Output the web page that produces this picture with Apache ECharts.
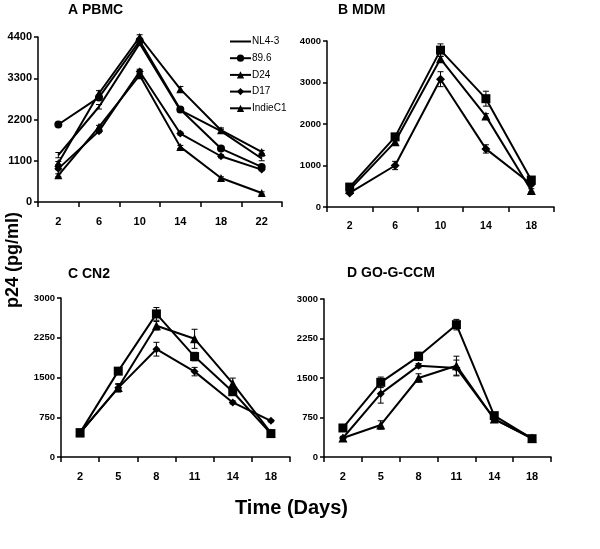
<!DOCTYPE html>
<html><head><meta charset="utf-8">
<script src="https://cdn.jsdelivr.net/npm/echarts@6/dist/echarts.min.js"></script>
<style>html,body{margin:0;padding:0;background:#fff}#c{width:600px;height:549px}</style>
</head><body><div id="c"></div>
<script>
// ---- Panel A: PBMC ----
const daysA = ['2','6','10','14','18','22'];
const aNL43   = [1250, 2540, 4230, 2450, 1890, 1160];
const aNL43e  = [70, 60, 60, 50, 50, 60];
const a896    = [2066, 2790, 4300, 2467, 1425, 935];
const a896e   = [30, 50, 50, 50, 40, 30];
const aD24    = [1040, 2900, 4400, 3010, 1915, 1336];
const aD24e   = [40, 70, 60, 70, 60, 40];
const aD17    = [890, 1890, 3480, 1826, 1220, 864];
const aD17e   = [30, 40, 60, 40, 40, 30];
const aIndie  = [712, 2004, 3380, 1470, 641, 240];
const aIndiee = [40, 40, 40, 40, 30, 30];
const ticksA  = [0, 1100, 2200, 3300, 4400];

// ---- Panel B: MDM ----
const daysB = ['2','6','10','14','18'];
const bSq   = [480, 1690, 3780, 2610, 650];
const bSqe  = [40, 60, 150, 180, 60];
const bTri  = [420, 1570, 3570, 2190, 400];
const bTrie = [30, 50, 60, 60, 40];
const bDia  = [340, 1000, 3080, 1400, 550];
const bDiae = [30, 100, 180, 100, 40];
const ticksB = [0, 1000, 2000, 3000, 4000];

// ---- Panel C: CN2 ----
const daysC = ['2','5','8','11','14','18'];
const cSq   = [460, 1620, 2700, 1895, 1232, 442];
const cSqe  = [30, 40, 120, 80, 60, 30];
const cTri  = [455, 1310, 2476, 2230, 1389, 455];
const cTrie = [30, 60, 80, 180, 100, 30];
const cDia  = [460, 1305, 2034, 1611, 1030, 682];
const cDiae = [30, 80, 130, 80, 30, 20];
const ticksC = [0, 750, 1500, 2250, 3000];

// ---- Panel D: GO-G-CCM ----
const daysD = ['2','5','8','11','14','18'];
const dSq   = [551, 1418, 1911, 2513, 785, 348];
const dSqe  = [30, 100, 80, 100, 40, 30];
const dDia  = [361, 1203, 1734, 1690, 721, 348];
const dDiae = [30, 180, 40, 150, 40, 30];
const dTri  = [361, 608, 1500, 1734, 721, 361];
const dTrie = [30, 80, 80, 180, 40, 30];
const ticksD = [0, 750, 1500, 2250, 3000];

const FONT = '"Liberation Sans", Arial, sans-serif';
const chart = echarts.init(document.getElementById('c'), null, {renderer: 'canvas'});

const grids = [
  {left: 38, top: 37, width: 244, height: 165},
  {left: 327, top: 41, width: 227, height: 166},
  {left: 61, top: 298, width: 229, height: 159},
  {left: 324, top: 299, width: 227, height: 158}
];
const cats = [daysA, daysB, daysC, daysD];
const yTicks = [ticksA, ticksB, ticksC, ticksD];
const yFont = [11, 9.5, 9.5, 9.5];
const xFont = [11, 10.5, 11, 11];

const xAxis = cats.map((c, i) => ({
  type: 'category', gridIndex: i, data: c, boundaryGap: true,
  axisLine: {lineStyle: {color: '#000', width: 1.5}},
  axisTick: {show: true, length: 5, lineStyle: {color: '#000', width: 1.5}},
  axisLabel: {color: '#000', fontWeight: 'bold', fontSize: xFont[i], fontFamily: FONT, margin: 14},
  splitLine: {show: false}
}));
const yAxis = yTicks.map((t, i) => ({
  type: 'value', gridIndex: i, min: t[0], max: t[t.length - 1], interval: t[1] - t[0],
  axisLine: {show: true, lineStyle: {color: '#000', width: 1.5}},
  axisTick: {show: true, length: 4, lineStyle: {color: '#000', width: 1.5}},
  axisLabel: {color: '#000', fontWeight: 'bold', fontSize: yFont[i], fontFamily: FONT, margin: 6,
              formatter: v => String(v)},
  splitLine: {show: false}
}));

function lineSeries(name, gi, data, symbol, size) {
  return {
    name: name, type: 'line', xAxisIndex: gi, yAxisIndex: gi, data: data,
    symbol: symbol, symbolSize: size, showSymbol: symbol !== 'none',
    lineStyle: {color: '#000', width: 2}, itemStyle: {color: '#000'},
    emphasis: {disabled: true}, animation: false, z: 3
  };
}
function errSeries(gi, vals, errs) {
  return {
    type: 'custom', xAxisIndex: gi, yAxisIndex: gi, animation: false, silent: true, z: 2,
    data: vals.map((v, k) => [k, v, errs[k]]),
    renderItem: function (params, api) {
      const x = api.value(0), v = api.value(1), e = api.value(2);
      const hi = api.coord([x, v + e]), lo = api.coord([x, v - e]);
      const cw = 3;
      const st = {stroke: '#000', lineWidth: 1};
      return {type: 'group', children: [
        {type: 'line', shape: {x1: hi[0], y1: hi[1], x2: lo[0], y2: lo[1]}, style: st},
        {type: 'line', shape: {x1: hi[0] - cw, y1: hi[1], x2: hi[0] + cw, y2: hi[1]}, style: st},
        {type: 'line', shape: {x1: lo[0] - cw, y1: lo[1], x2: lo[0] + cw, y2: lo[1]}, style: st}
      ]};
    }
  };
}

const series = [
  errSeries(0, aNL43, aNL43e), errSeries(0, a896, a896e), errSeries(0, aD24, aD24e),
  errSeries(0, aD17, aD17e), errSeries(0, aIndie, aIndiee),
  lineSeries('NL4-3', 0, aNL43, 'none', 0),
  lineSeries('89.6', 0, a896, 'circle', 8),
  lineSeries('D24', 0, aD24, 'triangle', 8),
  lineSeries('D17', 0, aD17, 'diamond', 8),
  lineSeries('IndieC1', 0, aIndie, 'triangle', 8),

  errSeries(1, bSq, bSqe), errSeries(1, bTri, bTrie), errSeries(1, bDia, bDiae),
  lineSeries('MDM square', 1, bSq, 'rect', 9),
  lineSeries('MDM triangle', 1, bTri, 'triangle', 9),
  lineSeries('MDM diamond', 1, bDia, 'diamond', 9),

  errSeries(2, cSq, cSqe), errSeries(2, cTri, cTrie), errSeries(2, cDia, cDiae),
  lineSeries('CN2 square', 2, cSq, 'rect', 9),
  lineSeries('CN2 triangle', 2, cTri, 'triangle', 9),
  lineSeries('CN2 diamond', 2, cDia, 'diamond', 8),

  errSeries(3, dSq, dSqe), errSeries(3, dDia, dDiae), errSeries(3, dTri, dTrie),
  lineSeries('CCM square', 3, dSq, 'rect', 9),
  lineSeries('CCM diamond', 3, dDia, 'diamond', 8),
  lineSeries('CCM triangle', 3, dTri, 'triangle', 9)
];

const titleStyle = {fontSize: 14, fontWeight: 'bold', color: '#000', fontFamily: FONT};

chart.setOption({
  backgroundColor: '#fff',
  animation: false,
  title: [
    {text: 'A PBMC', left: 63, top: -2, textStyle: titleStyle},
    {text: 'B MDM', left: 333, top: -2, textStyle: titleStyle},
    {text: 'C CN2', left: 63, top: 262, textStyle: titleStyle},
    {text: 'D GO-G-CCM', left: 342, top: 261, textStyle: titleStyle}
  ],
  legend: {
    data: [
      {name: 'NL4-3', itemStyle: {opacity: 0}},
      '89.6', 'D24', 'D17', 'IndieC1'
    ],
    orient: 'vertical', left: 229, top: 36.5, padding: 0, itemWidth: 21, itemHeight: 9, itemGap: 6.7,
    textStyle: {fontSize: 10, color: '#000', fontFamily: FONT, padding: [0, 0, 0, -4]},
    selectedMode: false, inactiveColor: '#000'
  },
  grid: grids,
  xAxis: xAxis,
  yAxis: yAxis,
  series: series,
  graphic: [
    {type: 'text', left: 235, top: 498, style: {text: 'Time (Days)', font: 'bold 20px ' + FONT, fill: '#000'}},
    {type: 'text', x: 4, y: 308, rotation: Math.PI / 2, style: {text: 'p24 (pg/ml)', font: 'bold 18px ' + FONT, fill: '#000', textVerticalAlign: 'top'}}
  ]
});
</script></body></html>
